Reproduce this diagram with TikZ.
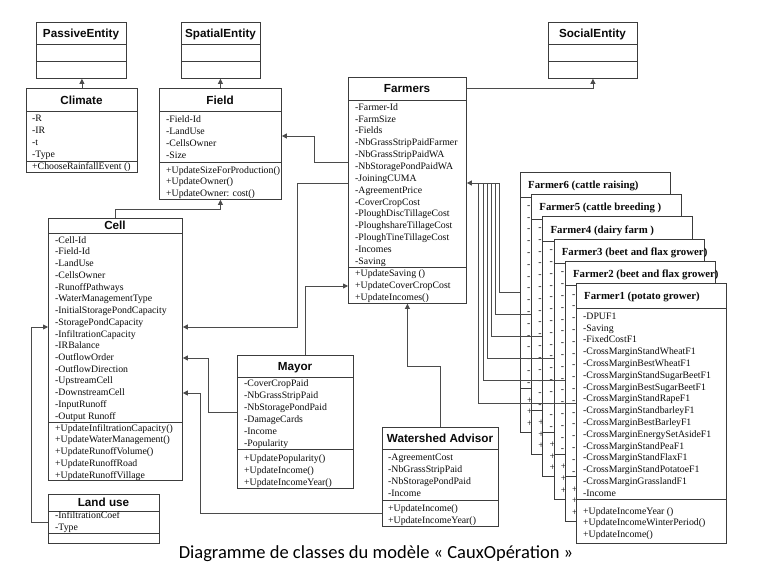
\documentclass[tikz,border=0pt]{standalone}
\usepackage{fontspec}
\setmainfont{Liberation Serif}
\newfontfamily\hdfont{Liberation Sans}
\newfontfamily\capfont{Carlito}
\usetikzlibrary{arrows.meta}
\definecolor{bx}{RGB}{60,60,60}
\definecolor{cn}{RGB}{75,75,75}
\definecolor{tx}{RGB}{10,10,10}
\newcommand\myrows[4]{\foreach \t [count=\i from 0] in {#4} \node[attr] at (#1,#2+#3*\i) {\t};}
\begin{document}
\begin{tikzpicture}[x=1pt,y=-1pt,
 box/.style={draw=bx,line width=0.85pt,fill=white,inner sep=0pt,anchor=north west},
 dv/.style={draw=bx,line width=0.85pt},
 ttl/.style={font=\hdfont\bfseries\fontsize{11.7}{13}\selectfont,inner sep=0pt,text height=8.4pt,text depth=0pt,text=tx},
 attr/.style={font=\fontsize{9.8}{11}\selectfont,inner sep=0pt,anchor=west,text height=7.4pt,text depth=1pt,text=tx},
 ctl/.style={font=\bfseries\fontsize{10.8}{12}\selectfont,inner sep=0pt,anchor=west,text height=7.2pt,text depth=0pt,text=tx},
 ln/.style={draw=cn,line width=0.85pt},
 arr/.style={ln,-{Triangle[length=5pt,width=5pt]}}]
\useasboundingbox (0,0) rectangle (757,586);
\fill[white] (0,0) rectangle (757,586);

% ---------- abstract entities
\node[box,minimum width=90pt,minimum height=56pt] (passive) at (36,22) {};
\draw[dv] (36,44) -- (126,44); \draw[dv] (36,61) -- (126,61);
\node[ttl] at (81,33) {PassiveEntity};

\node[box,minimum width=79pt,minimum height=56pt] (spatial) at (181,22) {};
\draw[dv] (181,44) -- (260,44); \draw[dv] (181,61) -- (260,61);
\node[ttl] at (220.5,33) {SpatialEntity};

\node[box,minimum width=89pt,minimum height=56pt] (social) at (548,22) {};
\draw[dv] (548,44) -- (637,44); \draw[dv] (548,61) -- (637,61);
\node[ttl] at (592.5,33) {SocialEntity};

% ---------- Climate
\node[box,minimum width=111pt,minimum height=84pt] (climate) at (26,88) {};
\draw[dv] (26,111) -- (137,111); \draw[dv] (26,161) -- (137,161);
\node[ttl] at (81.5,100) {Climate};
\myrows{32}{118}{12}{-R,-IR,-t,-Type}
\myrows{32}{166.5}{12}{+ChooseRainfallEvent ()}

% ---------- Field
\node[box,minimum width=122pt,minimum height=111pt] (field) at (159,88) {};
\draw[dv] (159,111) -- (281,111); \draw[dv] (159,162) -- (281,162);
\node[ttl] at (220,100) {Field};
\myrows{166}{119}{12}{-Field-Id,-LandUse,-CellsOwner,-Size}
\myrows{166}{170}{11.7}{+UpdateSizeForProduction(),+UpdateOwner(),+UpdateOwner: cost()}

% ---------- Cell
\node[box,minimum width=134pt,minimum height=262pt] (cell) at (48,218) {};
\draw[dv] (48,233) -- (182,233); \draw[dv] (48,422) -- (182,422);
\node[ttl] at (115,225.5) {Cell};
\myrows{55}{240}{11.73}{-Cell-Id,-Field-Id,-LandUse,-CellsOwner,-RunoffPathways,-WaterManagementType,-InitialStoragePondCapacity,-StoragePondCapacity,-InfiltrationCapacity,-IRBalance,-OutflowOrder,-OutflowDirection,-UpstreamCell,-DownstreamCell,-InputRunoff,-Output Runoff}
\myrows{55}{428}{11.75}{+UpdateInfiltrationCapacity(),+UpdateWaterManagement(),+UpdateRunoffVolume(),+UpdateRunoffRoad,+UpdateRunoffVillage}

% ---------- Land use
\node[box,minimum width=111pt,minimum height=49pt] (landuse) at (48,494) {};
\draw[dv] (48,511) -- (159,511); \draw[dv] (48,533) -- (159,533);
\node[ttl] at (103.5,502.5) {Land use};
\myrows{55}{515}{12}{-InfiltrationCoef,-Type}

% ---------- Farmers
\node[box,minimum width=118pt,minimum height=226pt] (farmers) at (348,77) {};
\draw[dv] (348,100) -- (466,100); \draw[dv] (348,267) -- (466,267);
\node[ttl] at (407,88.5) {Farmers};
\myrows{355}{107}{11.85}{-Farmer-Id,-FarmSize,-Fields,-NbGrassStripPaidFarmer,-NbGrassStripPaidWA,-NbStoragePondPaidWA,-JoiningCUMA,-AgreementPrice,-CoverCropCost,-PloughDiscTillageCost,-PloughshareTillageCost,-PloughTineTillageCost,-Incomes,-Saving}
\myrows{355}{273}{12}{+UpdateSaving (),+UpdateCoverCropCost,+UpdateIncomes()}

% ---------- Mayor
\node[box,minimum width=116pt,minimum height=133pt] (mayor) at (237,355) {};
\draw[dv] (237,377) -- (353,377); \draw[dv] (237,449) -- (353,449);
\node[ttl] at (295,366) {Mayor};
\myrows{244}{383.5}{11.9}{-CoverCropPaid,-NbGrassStripPaid,-NbStoragePondPaid,-DamageCards,-Income,-Popularity}
\myrows{244}{458}{11.9}{+UpdatePopularity(),+UpdateIncome(),+UpdateIncomeYear()}

% ---------- Watershed Advisor
\node[box,minimum width=116pt,minimum height=99pt] (wa) at (382,427) {};
\draw[dv] (382,449) -- (498,449); \draw[dv] (382,500) -- (498,500);
\node[ttl] at (440,438) {Watershed Advisor};
\myrows{388}{457}{12}{-AgreementCost,-NbGrassStripPaid,-NbStoragePondPaid,-Income}
\myrows{388}{508}{12}{+UpdateIncome(),+UpdateIncomeYear()}

% ---------- Farmer cards
\foreach \k/\tl in {6/Farmer6 (cattle raising),5/Farmer5 (cattle breeding ),4/Farmer4 (dairy farm ),3/Farmer3 (beet and flax grower),2/Farmer2 (beet and flax grower),1/Farmer1 (potato grower)}{
  \pgfmathsetmacro\cx{520+11.2*(6-\k)}
  \pgfmathsetmacro\cy{172+22.2*(6-\k)}
  \node[box,minimum width=150pt,minimum height=260pt] (f\k) at (\cx,\cy) {};
  \draw[dv] (\cx,\cy+25) -- (\cx+150,\cy+25);
  \draw[dv] (\cx,\cy+216) -- (\cx+150,\cy+216);
  \node[ctl] at (\cx+8,\cy+13) {\tl};
  \ifnum\k>1
    \foreach \j in {0,...,15} \node[attr] at (\cx+7,\cy+33+11.8*\j) {-};
    \foreach \j in {0,1,2} \node[attr] at (\cx+7,\cy+228+11.6*\j) {+};
  \fi
}
\myrows{583}{316}{11.8}{-DPUF1,-Saving,-FixedCostF1,-CrossMarginStandWheatF1,-CrossMarginBestWheatF1,-CrossMarginStandSugarBeetF1,-CrossMarginBestSugarBeetF1,-CrossMarginStandRapeF1,-CrossMarginStandbarleyF1,-CrossMarginBestBarleyF1,-CrossMarginEnergySetAsideF1,-CrossMarginStandPeaF1,-CrossMarginStandFlaxF1,-CrossMarginStandPotatoeF1,-CrossMarginGrasslandF1,-Income}
\myrows{583}{511}{11.6}{+UpdateIncomeYear (),+UpdateIncomeWinterPeriod(),+UpdateIncome()}

% ---------- connectors
\draw[arr] (climate.north) -- (climate.north |- passive.south);
\draw[arr] (field.north) -- (field.north |- spatial.south);
\draw[arr] (farmers.north east) ++(0,11) -| (social.south);
\draw[arr] (cell.north) -- ++(0,-9) -| (field.south);
\draw[arr] (farmers.west |- 0,162) -- (314,162) |- (field.east |- 0,136);
\draw[arr] (farmers.west |- 0,183) -- (297,183) |- (cell.east |- 0,327);
\draw[arr] (landuse.west |- 0,522) -- (31,522) |- (cell.west |- 0,327);
\draw[arr] (mayor.north -| 305,0) |- (farmers.west |- 0,286);
\draw[arr] (mayor.west |- 0,412) -- (208,412) |- (cell.east |- 0,358);
\draw[arr] (wa.west |- 0,513) -- (200,513) |- (cell.east |- 0,393);
\draw[arr] (wa.north -| 440,0) -- (440,366) -| (farmers.south);
\coordinate (bus) at (499,183);
\foreach \k/\bx in {6/499,5/495,4/491,3/487,2/483,1/478}
  \draw[ln] (f\k.north west) ++(0,120) -| (\bx,183);
\draw[arr] (bus) -- (farmers.east |- bus);

% ---------- caption
\node[font=\capfont\fontsize{18.5}{20}\selectfont,anchor=base,inner sep=0pt,text=black] (cap) at (376,558) {Diagramme de classes du modèle « CauxOpération »};
\end{tikzpicture}
\end{document}
